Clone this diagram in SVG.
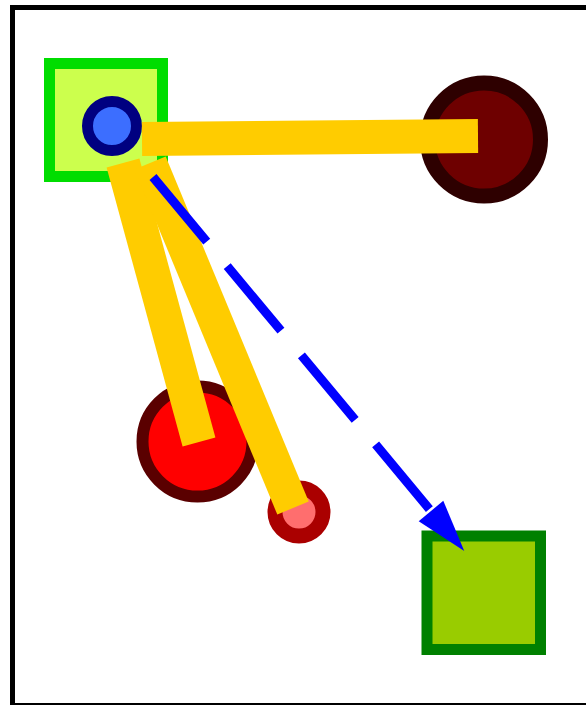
<svg xmlns="http://www.w3.org/2000/svg" width="586" height="705" viewBox="0 0 586 705">
  <defs>
    <marker id="arrow" markerUnits="userSpaceOnUse" markerWidth="60" markerHeight="40" refX="0" refY="16" orient="auto" overflow="visible">
      <path d="M0,0 L52,16 L0,32 Z" fill="#0000FF"/>
    </marker>
  </defs>
  <style>
    .bar { stroke: #FFCC00; stroke-width: 34; stroke-linecap: butt; fill: none; }
    .dash { stroke: #0000FF; stroke-width: 9; stroke-dasharray: 84 32; fill: none; }
  </style>
  <rect x="12.5" y="7.5" width="600" height="698" fill="#FFFFFF" stroke="#000000" stroke-width="5"/>
  <g id="node-square-top">
    <rect x="49.5" y="63.5" width="113" height="113" fill="#CCFF4D" stroke="#00DD00" stroke-width="11"/>
  </g>
  <g id="node-blue-circle">
    <circle cx="112" cy="126" r="24.5" fill="#3C6EFF" stroke="#000080" stroke-width="11"/>
  </g>
  <g id="node-dark-circle">
    <circle cx="484" cy="139.5" r="56.5" fill="#6E0000" stroke="#2E0000" stroke-width="15"/>
  </g>
  <g id="node-red-circle">
    <circle cx="197.5" cy="441.5" r="55" fill="#FF0000" stroke="#5A0000" stroke-width="12"/>
  </g>
  <g id="node-pink-circle">
    <circle cx="299" cy="512" r="24" fill="#FF6E6E" stroke="#AA0000" stroke-width="15"/>
  </g>
  <g id="node-square-bottom">
    <rect x="427" y="536" width="113.5" height="113.5" fill="#99CC00" stroke="#008000" stroke-width="11"/>
  </g>
  <g id="connectors">
    <line class="bar" x1="142" y1="139" x2="478" y2="136"/>
    <line class="bar" x1="123" y1="163" x2="199" y2="442"/>
    <line class="bar" x1="150" y1="163" x2="293" y2="508"/>
    <line class="dash" x1="153" y1="177" x2="431" y2="511" marker-end="url(#arrow)"/>
  </g>
</svg>
